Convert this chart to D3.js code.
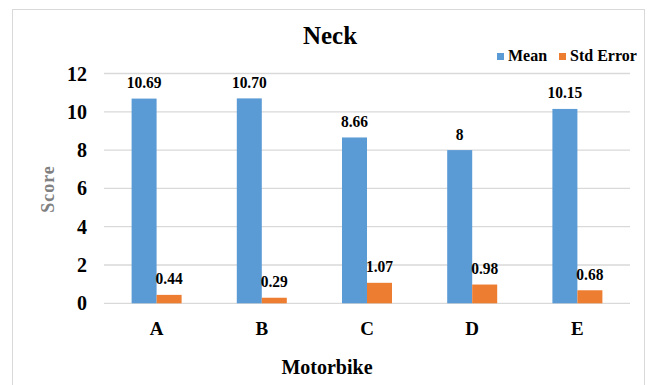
<!DOCTYPE html>
<html>
<head>
<meta charset="utf-8">
<script src="https://cdn.jsdelivr.net/npm/d3@7"></script>
<style>
  html, body { margin: 0; padding: 0; background: #fff; }
  svg text { font-family: "Liberation Serif", "Times New Roman", Times, serif; }
</style>
</head>
<body>
<svg id="chart" width="651" height="385"></svg>
<script>
// Neck scores per motorbike
const categories = ["A", "B", "C", "D", "E"];
const meanValues = [10.69, 10.70, 8.66, 8, 10.15];
const stdErrorValues = [0.44, 0.29, 1.07, 0.98, 0.68];
const meanLabels = ["10.69", "10.70", "8.66", "8", "10.15"];
const stdErrorLabels = ["0.44", "0.29", "1.07", "0.98", "0.68"];
const yTicks = [0, 2, 4, 6, 8, 10, 12];
const seriesNames = ["Mean", "Std Error"];
const seriesColors = ["#5B9BD5", "#ED7D31"];

const FONT = '"Liberation Serif", "Times New Roman", Times, serif';
const svg = d3.select("#chart");

// outer chart frame
svg.append("rect")
  .attr("x", 12.5).attr("y", 9.5)
  .attr("width", 632).attr("height", 400)
  .attr("fill", "#fff").attr("stroke", "#d9d9d9").attr("stroke-width", 1);

const plot = { left: 104, right: 630, top: 73.5, bottom: 303.3 };

const x = d3.scaleBand().domain(categories).range([plot.left, plot.right]).paddingInner(0).paddingOuter(0);
const y = d3.scaleLinear().domain([0, 12]).range([plot.bottom, plot.top]);
const barW = 25;

// gridlines
svg.append("g").selectAll("line").data(yTicks).join("line")
  .attr("x1", plot.left).attr("x2", plot.right)
  .attr("y1", d => y(d)).attr("y2", d => y(d))
  .attr("stroke", "#d9d9d9").attr("stroke-width", 1.3);

// y tick labels
svg.append("g").selectAll("text").data(yTicks).join("text")
  .attr("font-family", FONT)
  .attr("x", 87).attr("y", d => y(d) + 7)
  .attr("text-anchor", "end")
  .attr("font-size", 20).attr("font-weight", "bold").attr("fill", "#000")
  .text(d => d);

const rows = categories.map((c, i) => ({ c, mean: meanValues[i], se: stdErrorValues[i], ml: meanLabels[i], sl: stdErrorLabels[i] }));
const center = c => x(c) + x.bandwidth() / 2;

// Mean bars
svg.append("g").selectAll("rect").data(rows).join("rect")
  .attr("x", d => center(d.c) - barW).attr("width", barW)
  .attr("y", d => y(d.mean)).attr("height", d => y(0) - y(d.mean))
  .attr("fill", seriesColors[0]);

// Std Error bars
svg.append("g").selectAll("rect").data(rows).join("rect")
  .attr("x", d => center(d.c)).attr("width", barW)
  .attr("y", d => y(d.se)).attr("height", d => y(0) - y(d.se))
  .attr("fill", seriesColors[1]);

// value labels (slightly tall glyphs)
const valueLabel = (g, data, dx, val, txt) => g.selectAll("text").data(data).join("text")
  .attr("font-family", FONT)
  .attr("transform", d => `translate(${center(d.c) + dx},${y(val(d)) - 10.5}) scale(1,1.12)`)
  .attr("text-anchor", "middle").attr("font-size", 15.5).attr("font-weight", "bold")
  .text(txt);
valueLabel(svg.append("g"), rows, -barW / 2, d => d.mean, d => d.ml);
valueLabel(svg.append("g"), rows, barW / 2, d => d.se, d => d.sl);

// category labels
svg.append("g").selectAll("text").data(categories).join("text")
  .attr("font-family", FONT)
  .attr("x", d => center(d)).attr("y", 335)
  .attr("text-anchor", "middle").attr("font-size", 19).attr("font-weight", "bold")
  .text(d => d);

// title
svg.append("text").attr("font-family", FONT).attr("x", 330).attr("y", 44)
  .attr("text-anchor", "middle").attr("font-size", 25).attr("font-weight", "bold")
  .text("Neck");

// axis titles
svg.append("text").attr("font-family", FONT).attr("x", 327).attr("y", 374)
  .attr("text-anchor", "middle").attr("font-size", 20).attr("font-weight", "bold")
  .text("Motorbike");
svg.append("text").attr("font-family", FONT)
  .attr("transform", "translate(54,189) rotate(-90)")
  .attr("text-anchor", "middle").attr("font-size", 18).attr("font-weight", "bold")
  .attr("fill", "#808080").attr("letter-spacing", 1)
  .text("Score");

// legend
const legendX = [497, 559];
const lg = svg.append("g").selectAll("g").data(seriesNames).join("g")
  .attr("transform", (d, i) => `translate(${legendX[i]},0)`);
lg.append("rect").attr("x", 0).attr("y", 53).attr("width", 7).attr("height", 7)
  .attr("fill", (d, i) => seriesColors[i]);
lg.append("text").attr("font-family", FONT).attr("x", 11).attr("y", 61)
  .attr("font-size", 16).attr("font-weight", "bold")
  .text(d => d);
</script>
</body>
</html>
